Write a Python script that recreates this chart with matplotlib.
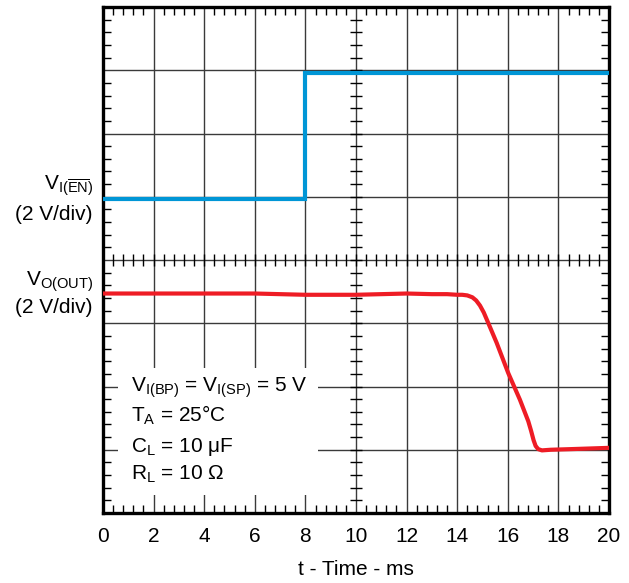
import numpy as np
import matplotlib
matplotlib.use("Agg")
import matplotlib.pyplot as plt
from matplotlib.patches import Rectangle

plt.rcParams['font.family'] = 'Liberation Sans'
plt.rcParams['mathtext.fontset'] = 'custom'
plt.rcParams['mathtext.rm'] = 'Liberation Sans'
plt.rcParams['mathtext.it'] = 'Liberation Sans:italic'
plt.rcParams['mathtext.bf'] = 'Liberation Sans:bold'

# Datos (tiempo en ms, tension en divisiones)
t_en = [0, 8.0, 8.0, 20]
v_en = [4.97, 4.97, 6.95, 6.95]

t_out = [0, 2, 4, 6, 7, 8, 9, 10, 11, 12, 13, 13.6, 14.0, 14.2, 14.4, 14.6,
         14.75, 14.9, 15.05, 15.2, 15.56, 16.02, 16.48, 16.81, 16.92, 17.02,
         17.1, 17.2, 17.35, 17.7, 18.5, 20]
v_out = [3.47, 3.47, 3.47, 3.47, 3.46, 3.45, 3.45, 3.45, 3.46, 3.47, 3.46, 3.46,
         3.45, 3.45, 3.44, 3.41, 3.36, 3.28, 3.17, 3.03, 2.69, 2.21, 1.79, 1.45,
         1.30, 1.15, 1.06, 1.01, 0.99, 1.00, 1.01, 1.03]

x_ticks = [0, 2, 4, 6, 8, 10, 12, 14, 16, 18, 20]

notas = ['V$_\\mathrm{I(BP)}$ = V$_\\mathrm{I(SP)}$ = 5 V',
         'T$_\\mathrm{A}$ = 25°C',
         'C$_\\mathrm{L}$ = 10 μF',
         'R$_\\mathrm{L}$ = 10 Ω']

fig = plt.figure(figsize=(6.29, 5.83), dpi=100)
ax = fig.add_axes([103/629, 1 - 513/583, 506/629, 506/583])

ax.set_xlim(0, 20)
ax.set_ylim(0, 8)

# Rejilla tipo osciloscopio
ax.set_xticks(x_ticks)
ax.set_yticks(np.arange(0, 9, 1))
ax.set_yticklabels([])
ax.set_xticks(np.arange(0, 20.01, 0.4), minor=True)
ax.set_yticks(np.arange(0, 8.01, 0.2), minor=True)
ax.grid(True, which='major', color='#3a3a3a', lw=1.0)
ax.set_axisbelow(True)
ax.tick_params(which='major', length=0, labelsize=15, pad=10)
ax.tick_params(which='minor', direction='in', length=6, width=1,
               top=True, right=True, color='black')
for s in ax.spines.values():
    s.set_linewidth(2.4)

# Marcas en los ejes centrales
ax.plot(np.full(41, 10.0), np.arange(0, 8.01, 0.2), ls='none', marker='_',
        ms=9, mew=1, color='black', zorder=0.8)
ax.plot(np.arange(0, 20.01, 0.4), np.full(51, 4.0), ls='none', marker='|',
        ms=9, mew=1, color='black', zorder=0.8)

# Recuadro blanco detras de las notas
ax.add_patch(Rectangle((0.6, 0.28), 7.9, 2.01, fc='white', ec='none', zorder=1))

ax.plot(t_en, v_en, color='#0096D6', lw=3, zorder=3, solid_joinstyle='miter')
ax.plot(t_out, v_out, color='#EE1C25', lw=3, zorder=3, solid_joinstyle='round')

for i, txt in enumerate(notas):
    ax.text(1.1, [1.92, 1.44, 0.97, 0.52][i], txt, fontsize=15, va='baseline',
            ha='left', zorder=4)

# Etiquetas de los canales
ax.text(-0.4, 5.11, 'V$_{\\mathrm{I(}\\overline{\\mathrm{EN}}\\mathrm{)}}$',
        fontsize=15, ha='right', va='baseline', clip_on=False)
ax.text(-0.4, 4.63, '(2 V/div)', fontsize=15, ha='right', va='baseline', clip_on=False)
ax.text(-0.4, 3.60, 'V$_\\mathrm{O(OUT)}$', fontsize=15, ha='right', va='baseline',
        clip_on=False)
ax.text(-0.4, 3.16, '(2 V/div)', fontsize=15, ha='right', va='baseline', clip_on=False)

ax.text(0.5, -0.1225, 't - Time - ms', fontsize=15, ha='center', va='baseline',
        transform=ax.transAxes)

plt.savefig("out.png", dpi=100)
